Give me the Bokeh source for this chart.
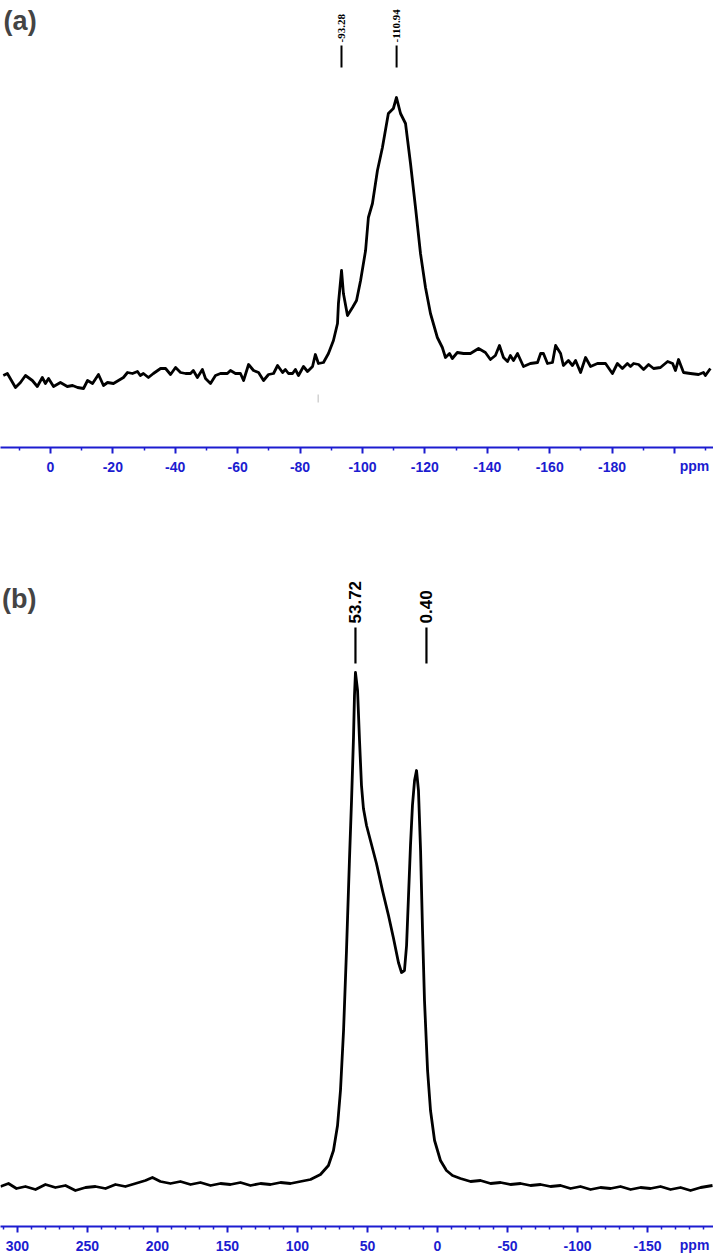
import numpy as np
from bokeh.plotting import figure
from bokeh.layouts import column
from bokeh.models import Range1d, FixedTicker, Label, LinearAxis
from bokeh.embed import file_html
from bokeh.resources import INLINE
from bokeh.core.properties import value

# ---------------- Panel (a) data ----------------
a_ppm = [15.1, 13.8, 11.2, 9.6, 8.0, 5.8, 4.2, 2.6, 1.6, 0.6,
         -1.0, -3.2, -5.4, -7.1, -8.7, -10.6, -11.9, -13.5, -15.4, -17.0,
         -18.3, -20.2, -21.8, -23.4, -24.7, -26.3, -27.9, -28.8, -29.8, -31.4,
         -33.0, -35.3, -36.9, -38.5, -40.1, -41.7, -43.3, -44.9, -45.8, -47.1,
         -48.7, -49.7, -51.3, -52.9, -54.5, -56.7, -57.7, -59.3, -60.9, -61.9,
         -63.5, -65.1, -66.7, -68.3, -69.9, -71.5, -72.8, -74.4, -75.3, -76.3,
         -77.6, -78.5, -79.5, -81.1, -82.4, -84.0, -84.9, -85.9, -87.5, -89.1,
         -90.7, -92.0, -92.3, -93.3, -93.9, -95.2, -96.8, -98.1, -99.4, -101.0,
         -101.9, -103.2, -104.8, -106.4, -108.3, -109.9, -110.9, -112.2, -113.8, -115.4,
         -117.0, -118.6, -120.2, -121.8, -124.0, -125.6, -126.6, -127.9, -128.8, -130.4,
         -132.4, -134.6, -137.2, -139.4, -141.0, -142.6, -143.9, -145.2, -146.5, -147.4,
         -148.4, -149.7, -151.6, -153.8, -156.1, -157.1, -158.0, -159.3, -160.9, -161.9,
         -163.5, -164.4, -166.0, -167.3, -168.3, -169.9, -171.5, -173.1, -175.3, -177.9,
         -180.1, -181.7, -183.3, -184.9, -185.9, -186.9, -188.5, -190.1, -191.7, -193.3,
         -195.5, -197.8, -199.4, -200.3, -201.3, -202.9, -205.1, -207.7, -209.3, -209.9,
         -211.5]
a_int = [25, 27, 13, 18, 25, 20, 14, 23, 17, 22,
         14, 18, 14, 15, 13, 12, 20, 17, 26, 15,
         18, 17, 20, 23, 28, 27, 29, 25, 27, 23,
         27, 32, 32, 26, 33, 28, 27, 27, 30, 23,
         31, 22, 17, 25, 27, 27, 30, 27, 27, 20,
         36, 30, 28, 20, 26, 27, 35, 28, 31, 27,
         27, 31, 25, 34, 29, 34, 46, 37, 38, 47,
         60, 77, 97, 130, 107, 85, 93, 100, 120, 150,
         183, 197, 230, 253, 287, 292, 303, 287, 277, 237,
         193, 147, 113, 87, 63, 53, 43, 47, 42, 48,
         47, 47, 52, 48, 41, 45, 55, 43, 39, 45,
         40, 47, 34, 37, 38, 47, 47, 37, 38, 55,
         47, 35, 40, 35, 40, 28, 43, 34, 37, 37,
         27, 37, 32, 37, 34, 37, 36, 31, 36, 32,
         33, 39, 37, 30, 41, 28, 27, 26, 28, 25,
         32]
a_peak_labels = ["-93.28", "-110.94"]
a_peak_pos = [-93.28, -110.94]
a_major_ticks = [0, -20, -40, -60, -80, -100, -120, -140, -160, -180, -200]
a_tick_labels = ["0", "-20", "-40", "-60", "-80", "-100", "-120", "-140", "-160", "-180", ""]
a_minor_ticks = [10, -10, -30, -50, -70, -90, -110, -130, -150, -170, -190, -210]
a_unit_pos = -206.4

# ---------------- Panel (b) data ----------------
b_ppm = [312.1, 306.4, 300.7, 294.3, 287.1, 280.0, 272.9, 265.7, 258.6, 251.4,
         244.3, 237.1, 230.0, 222.9, 215.7, 208.6, 203.6, 197.9, 190.7, 183.6,
         176.4, 169.3, 162.1, 155.0, 147.9, 140.7, 133.6, 126.4, 119.3, 112.1,
         105.0,
         97.9, 90.7, 83.6, 77.9, 74.3, 71.4, 69.3, 67.1, 65.0, 62.9,
         61.4, 60.0, 59.3, 58.6, 57.1, 55.7, 54.3, 52.9, 50.7, 47.9,
         43.6, 39.3, 35.0, 31.4, 27.9, 25.7, 23.6, 22.1, 20.7, 19.3,
         17.9, 16.4, 15.0, 13.6, 12.1, 10.7, 9.3, 7.1, 5.0, 2.1,
         -2.1, -6.4, -10.7,
         -16.4, -23.6, -30.7, -37.9, -45.0, -52.1, -59.3, -66.4, -73.6, -80.7,
         -87.9, -95.0, -102.1, -109.3, -116.4, -123.6, -130.7, -137.9, -145.0, -152.1,
         -159.3, -166.4, -173.6, -180.7, -187.9, -196.4]
b_int = [4, 7, 2, 4, 1, 6, 3, 5, 0, 3,
         4, 2, 6, 4, 7, 10, 13, 9, 7, 9,
         6, 8, 5, 7, 6, 8, 5, 7, 6, 8,
         7,
         9, 11, 16, 25, 40, 65, 100, 160, 240, 330,
         390, 453, 495, 518, 500, 450, 405, 382, 365, 350,
         327, 300, 275, 252, 228, 218, 220, 245, 295, 345,
         385, 410, 420, 400, 340, 260, 190, 120, 80, 50,
         30, 20, 15,
         12, 9, 10, 7, 8, 6, 7, 5, 6, 4,
         5, 2, 4, 1, 3, 2, 4, 1, 3, 2,
         4, 1, 3, 0, 3, 5]
b_peak_labels = ["53.72", "0.40"]
b_peak_pos = [58.6, 7.9]
b_major_ticks = [300, 250, 200, 150, 100, 50, 0, -50, -100, -150]
b_tick_labels = ["300", "250", "200", "150", "100", "50", "0", "-50", "-100", "-150"]
b_minor_ticks = [t for t in range(310, -200, -10) if t % 50 != 0]
b_unit_pos = -183.6

BLUE = "#1c1cd0"
W = 713


def style_axis(p, majors, labels, minors, standoff):
    ax = p.xaxis[0]
    ax.ticker = FixedTicker(ticks=majors, minor_ticks=minors)
    ax.major_label_overrides = {t: l for t, l in zip(majors, labels)}
    ax.axis_line_color = BLUE
    ax.axis_line_width = 2
    ax.major_tick_line_color = BLUE
    ax.major_tick_line_width = 2
    ax.minor_tick_line_color = BLUE
    ax.minor_tick_line_width = 1.5
    ax.major_tick_in = 0
    ax.major_tick_out = 6
    ax.minor_tick_in = 0
    ax.minor_tick_out = 3
    ax.major_label_text_color = BLUE
    ax.major_label_text_font = "Liberation Sans"
    ax.major_label_text_font_style = "bold"
    ax.major_label_text_font_size = "14px"
    ax.major_label_standoff = standoff


def unit_axis(p, pos, standoff):
    ax = LinearAxis(ticker=FixedTicker(ticks=[pos], minor_ticks=[]),
                    major_label_overrides={pos: "ppm"})
    ax.axis_line_color = None
    ax.major_tick_line_color = None
    ax.minor_tick_line_color = None
    ax.major_tick_out = 0
    ax.major_tick_in = 0
    ax.major_label_text_color = BLUE
    ax.major_label_text_font = "Liberation Sans"
    ax.major_label_text_font_style = "bold"
    ax.major_label_text_font_size = "14px"
    ax.major_label_standoff = standoff
    p.add_layout(ax, "below")


# ---------------- figure (a) ----------------
pa = figure(width=W, height=480, output_backend="svg", toolbar_location=None,
            x_range=Range1d(16.0, -212.5), y_range=Range1d(-47, 400),
            y_axis_location=None, min_border_left=0, min_border_right=0,
            min_border_top=0, min_border_bottom=33)
pa.outline_line_color = None
pa.xgrid.grid_line_color = None
pa.ygrid.grid_line_color = None
pa.line(a_ppm, a_int, line_color="black", line_width=2.8, line_join="round")
style_axis(pa, a_major_ticks, a_tick_labels, a_minor_ticks, 8)
unit_axis(pa, a_unit_pos, -17)
pa.segment(x0=a_peak_pos, y0=[333] * 2, x1=a_peak_pos, y1=[355] * 2,
           line_color="black", line_width=2)
pa.text(x=a_peak_pos, y=[358] * 2, text=a_peak_labels, angle=np.pi / 2,
        text_align="left", text_baseline="middle",
        text_font=value("Liberation Serif"), text_font_style="bold",
        text_font_size="11px", text_color="black")
pa.segment(x0=[-85.8], y0=[-2], x1=[-85.8], y1=[6], line_color="#bbbbbb", line_width=1)
pa.add_layout(Label(x=15.0, y=380, text="(a)", text_font="Liberation Sans",
                    text_font_style="bold", text_font_size="27px",
                    text_baseline="middle", text_align="left"))

# ---------------- figure (b) ----------------
pb = figure(width=W, height=776, output_backend="svg", toolbar_location=None,
            x_range=Range1d(312.1, -197.1), y_range=Range1d(-36, 710),
            y_axis_location=None, min_border_left=0, min_border_right=0,
            min_border_top=0, min_border_bottom=30)
pb.outline_line_color = None
pb.xgrid.grid_line_color = None
pb.ygrid.grid_line_color = None
pb.line(b_ppm, b_int, line_color="black", line_width=2.8, line_join="round")
style_axis(pb, b_major_ticks, b_tick_labels, b_minor_ticks, 8)
unit_axis(pb, b_unit_pos, -17)
pb.segment(x0=b_peak_pos, y0=[527] * 2, x1=b_peak_pos, y1=[563] * 2,
           line_color="black", line_width=2.2)
pb.text(x=b_peak_pos, y=[567] * 2, text=b_peak_labels, angle=np.pi / 2,
        text_align="left", text_baseline="middle",
        text_font=value("Liberation Sans"), text_font_style="bold",
        text_font_size="17px", text_color="black")
pb.add_layout(Label(x=311.0, y=592, text="(b)", text_font="Liberation Sans",
                    text_font_style="bold", text_font_size="27px",
                    text_baseline="middle", text_align="left"))

layout = column(pa, pb, spacing=0)
open("out.html", "w").write(file_html(layout, INLINE))
